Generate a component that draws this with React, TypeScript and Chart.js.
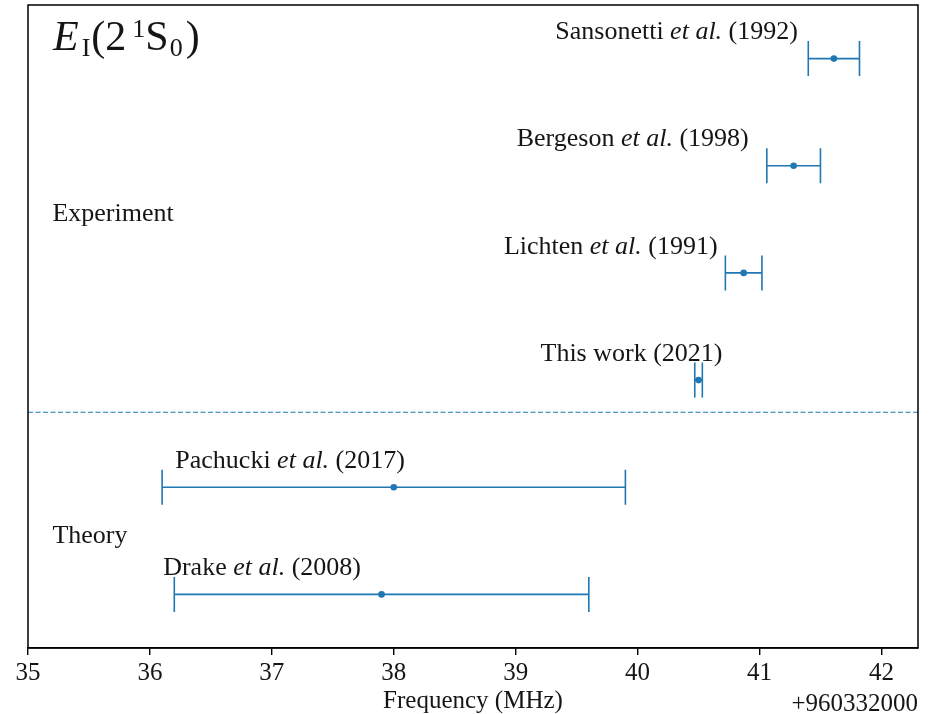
import React, { useEffect, useRef } from 'react';
import { Chart, registerables } from 'chart.js';

Chart.register(...registerables);

// ---- data ----
const sources = ['Drake', 'Pachucki', 'This work', 'Lichten', 'Bergeson', 'Sansonetti'];
const years = ['2008', '2017', '2021', '1991', '1998', '1992'];
const hasEtAl = [true, true, false, true, true, true];
const rows = [0, 1, 2, 3, 4, 5];
const freqValues = [37.9, 38.0, 40.5, 40.87, 41.28, 41.61];
const freqErrors = [1.7, 1.9, 0.031, 0.15, 0.22, 0.21];
const labelX = [36.92, 37.15, 39.95, 39.78, 39.96, 40.32];
const groupNames = ['Experiment', 'Theory'];
const groupX = [35.2, 35.2];
const groupY = [3.48, 0.48];
const separatorY = 1.7;
const xTicks = [35, 36, 37, 38, 39, 40, 41, 42];
const xMin = 35;
const xMax = 42.3;
const yMin = -0.5;
const yMax = 5.5;
const axisTitle = 'Frequency (MHz)';
const offsetText = '+960332000';

// ---- style ----
const BLUE = '#1f77b4';
const TEXT = '#151515';
const FONT = '"Liberation Serif", "Times New Roman", serif';
const LABEL_SIZE = 26;
const CAP = 17.5;

type Seg = { t: string; italic?: boolean; size: number; dy?: number; gap?: number };

function drawSegs(ctx: CanvasRenderingContext2D, segs: Seg[], x: number, baseline: number, align: 'left' | 'center') {
  const widths = segs.map((s) => {
    ctx.font = `${s.italic ? 'italic ' : ''}${s.size}px ${FONT}`;
    return ctx.measureText(s.t).width + (s.gap || 0);
  });
  const total = widths.reduce((a, b) => a + b, 0);
  let xx = align === 'center' ? x - total / 2 : x;
  ctx.textAlign = 'left';
  ctx.textBaseline = 'alphabetic';
  segs.forEach((s, i) => {
    ctx.font = `${s.italic ? 'italic ' : ''}${s.size}px ${FONT}`;
    ctx.fillText(s.t, xx, baseline + (s.dy || 0));
    xx += widths[i];
  });
}

const overlay = {
  id: 'overlay',
  beforeDatasetsDraw(chart: any) {
    const { ctx, scales } = chart;
    const x = scales.x;
    const y = scales.y;
    ctx.save();
    ctx.strokeStyle = BLUE;
    ctx.lineWidth = 1.6;
    freqValues.forEach((v, i) => {
      const py = y.getPixelForValue(rows[i]);
      const x0 = x.getPixelForValue(v - freqErrors[i]);
      const x1 = x.getPixelForValue(v + freqErrors[i]);
      ctx.beginPath();
      ctx.moveTo(x0, py);
      ctx.lineTo(x1, py);
      ctx.moveTo(x0, py - CAP);
      ctx.lineTo(x0, py + CAP);
      ctx.moveTo(x1, py - CAP);
      ctx.lineTo(x1, py + CAP);
      ctx.stroke();
    });
    ctx.restore();
  },
  afterDraw(chart: any) {
    const { ctx, chartArea, scales } = chart;
    const x = scales.x;
    const y = scales.y;
    ctx.save();
    // frame
    ctx.strokeStyle = '#000';
    ctx.lineWidth = 1.5;
    ctx.strokeRect(chartArea.left, chartArea.top, chartArea.right - chartArea.left, chartArea.bottom - chartArea.top);

    ctx.fillStyle = TEXT;
    // point labels
    sources.forEach((name, i) => {
      const segs: Seg[] = hasEtAl[i]
        ? [
            { t: name + ' ', size: LABEL_SIZE },
            { t: 'et al.', italic: true, size: LABEL_SIZE },
            { t: ' (' + years[i] + ')', size: LABEL_SIZE },
          ]
        : [{ t: name + ' (' + years[i] + ')', size: LABEL_SIZE }];
      drawSegs(ctx, segs, x.getPixelForValue(labelX[i]), y.getPixelForValue(rows[i] + 0.18), 'center');
    });
    // group labels
    groupNames.forEach((g, i) => {
      drawSegs(ctx, [{ t: g, size: LABEL_SIZE }], x.getPixelForValue(groupX[i]), y.getPixelForValue(groupY[i]), 'left');
    });
    // title E_I(2 ^1S_0)
    const tb = chartArea.top + 45;
    drawSegs(
      ctx,
      [
        { t: 'E', italic: true, size: 42, gap: 3 },
        { t: 'I', size: 26, dy: 6, gap: 1 },
        { t: '(2', size: 42, gap: 6 },
        { t: '1', size: 26, dy: -13, gap: 0 },
        { t: 'S', size: 42, gap: 1 },
        { t: '0', size: 26, dy: 6, gap: 3 },
        { t: ')', size: 42 },
      ],
      chartArea.left + 25,
      tb,
      'left'
    );
    // offset text
    ctx.font = `25px ${FONT}`;
    ctx.textAlign = 'right';
    ctx.textBaseline = 'alphabetic';
    ctx.fillText(offsetText, chartArea.right, chart.height - 3);
    ctx.restore();
  },
};

export default function App() {
  const ref = useRef<HTMLCanvasElement | null>(null);
  useEffect(() => {
    if (!ref.current) return;
    const chart = new Chart(ref.current, {
      type: 'scatter',
      data: {
        datasets: [
          {
            type: 'line',
            data: [
              { x: xMin, y: separatorY },
              { x: xMax, y: separatorY },
            ],
            borderColor: BLUE,
            borderWidth: 1.2,
            borderDash: [5, 2.5],
            pointRadius: 0,
            fill: false,
          } as any,
          {
            type: 'scatter',
            data: rows.map((r, i) => ({ x: freqValues[i], y: r })),
            pointRadius: 3.3,
            pointHoverRadius: 3.3,
            pointBackgroundColor: BLUE,
            pointBorderWidth: 0,
            borderWidth: 0,
          } as any,
        ],
      },
      options: {
        responsive: false,
        animation: false,
        layout: { padding: { left: 28, right: 18, top: 5, bottom: 0 } },
        plugins: { legend: { display: false }, tooltip: { enabled: false } },
        events: [],
        scales: {
          x: {
            type: 'linear',
            min: xMin,
            max: xMax,
            afterBuildTicks: (axis: any) => {
              axis.ticks = xTicks.map((v) => ({ value: v }));
            },
            afterFit: (axis: any) => {
              axis.height = 66;
            },
            ticks: {
              font: { family: FONT, size: 25, lineHeight: 1.2 },
              color: TEXT,
              padding: 3,
              maxRotation: 0,
              autoSkip: false,
            },
            grid: {
              drawOnChartArea: false,
              drawTicks: true,
              tickLength: 7,
              color: '#000',
              lineWidth: 1.4,
            },
            border: { display: true, color: '#000', width: 1.5 },
            title: {
              display: true,
              text: axisTitle,
              font: { family: FONT, size: 25, lineHeight: 1.0 },
              color: TEXT,
              padding: 0,
            },
          },
          y: {
            type: 'linear',
            min: yMin,
            max: yMax,
            display: false,
          },
        },
      },
      plugins: [overlay],
    } as any);
    return () => chart.destroy();
  }, []);
  return (
    <div style={{ position: 'absolute', left: 0, top: 0, width: 936, height: 714, background: '#fff' }}>
      <canvas ref={ref} width={936} height={714} style={{ display: 'block', width: 936, height: 714 }} />
    </div>
  );
}
